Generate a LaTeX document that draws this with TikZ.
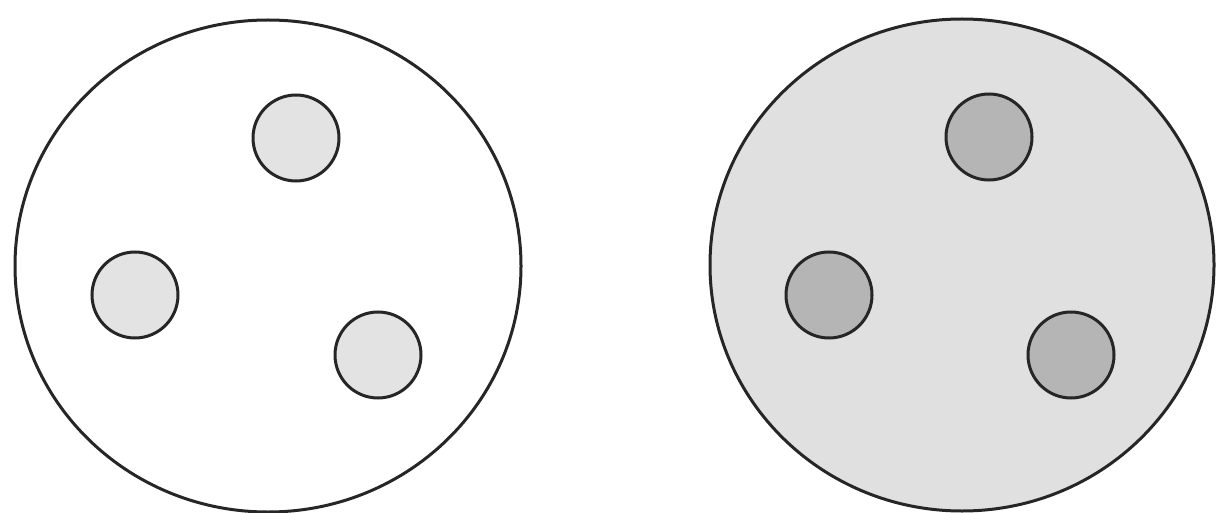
\documentclass[tikz,border=0pt]{standalone}
\begin{document}
\begin{tikzpicture}[x=1pt,y=-1pt,
  outline/.style={draw=black!85,line width=3pt},
  bigA/.style={outline,fill=white},
  bigB/.style={outline,fill=gray!24},
  smallA/.style={outline,fill=gray!22},
  smallB/.style={outline,fill=gray!58}]
\useasboundingbox (0,0) rectangle (1218,513);
% left
\draw[bigA] (268,266) ellipse [x radius=253, y radius=246];
\draw[smallA] (296,138) circle (43);
\draw[smallA] (135,295) circle (43);
\draw[smallA] (378,355) circle (43);
% right
\draw[bigB] (962,265) ellipse [x radius=252, y radius=246];
\draw[smallB] (989,137) circle (43);
\draw[smallB] (829,295) circle (43);
\draw[smallB] (1071,355) circle (43);
\end{tikzpicture}
\end{document}
